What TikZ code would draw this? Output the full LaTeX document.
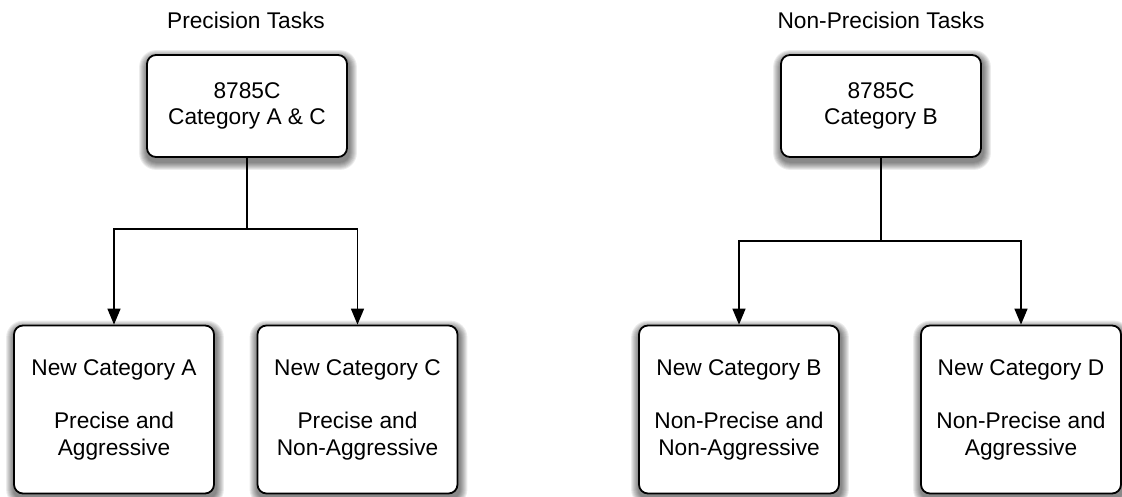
\documentclass[tikz,border=0pt]{standalone}
\usepackage{fontspec}
\setmainfont{Liberation Sans}
\usetikzlibrary{arrows.meta,backgrounds}
\newcommand\boxshade[1]{%
  \foreach \i [evaluate=\i as \r using 9+\i] in {1,...,8}{%
    \fill[black, opacity=0.075, rounded corners=\r pt]
      ([shift={(1-\i,-4-\i)}]#1.south west) rectangle ([shift={(1+\i,-4+\i)}]#1.north east);}}
\begin{document}
\begin{tikzpicture}[x=1pt,y=1pt,
  box/.style={draw=black, line width=1.8pt, rounded corners=9pt, fill=white,
    inner sep=0pt, minimum width=200pt, align=center,
    font=\fontsize{22.7}{26.7}\selectfont},
  topbox/.style={box, minimum height=102pt},
  botbox/.style={box, minimum height=168pt},
  title/.style={font=\fontsize{22.7}{26}\selectfont, inner sep=0pt},
  conn/.style={line width=1.5pt, draw=black},
  arr/.style={conn, -{Triangle[length=16pt,width=13pt]}}]
\useasboundingbox (0,0) rectangle (1122,-496);
\node[title] (t1) at (246,-20) {Precision Tasks};
\node[title] (t2) at (881,-20) {Non-Precision Tasks};
\node[topbox] (p) at (247,-106) {8785C\\Category A \& C};
\node[topbox] (n) at (881,-106) {8785C\\Category B};
\node[botbox] (a) at (114,-409.5) {New Category A\\[26.7pt]Precise and\\Aggressive};
\node[botbox] (c) at (357.5,-409.5) {New Category C\\[26.7pt]Precise and\\Non-Aggressive};
\node[botbox] (b) at (739,-409.5) {New Category B\\[26.7pt]Non-Precise and\\Non-Aggressive};
\node[botbox] (d) at (1021,-409.5) {New Category D\\[26.7pt]Non-Precise and\\Aggressive};
\begin{scope}[on background layer]
  \boxshade{p}\boxshade{n}\boxshade{a}\boxshade{c}\boxshade{b}\boxshade{d}
\end{scope}
\coordinate (j1) at (247,-229);
\coordinate (j2) at (881,-241);
\draw[conn] (p.south) -- (j1);
\draw[arr] (j1) -| (a.north);
\draw[arr] (j1) -| (c.north);
\draw[conn] (n.south) -- (j2);
\draw[arr] (j2) -| (b.north);
\draw[arr] (j2) -| (d.north);
\end{tikzpicture}
\end{document}
